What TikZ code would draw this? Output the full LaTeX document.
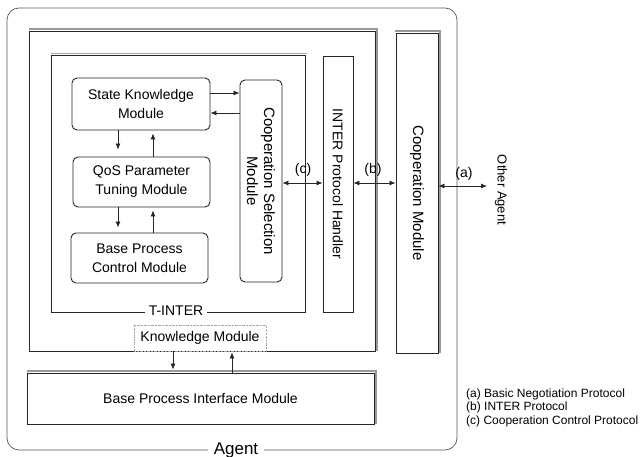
\documentclass[tikz,border=0pt]{standalone}
\usepackage{fontspec}
\setmainfont{Liberation Sans}
\usetikzlibrary{arrows.meta,calc}
\begin{document}
\begin{tikzpicture}[x=1pt,y=-1pt,
 box/.style={draw=black!85, line width=0.9pt, inner sep=0pt, align=center, font=\fontsize{14}{19}\selectfont},
 rbox/.style={box, rounded corners=5pt},
 tip/.tip={Latex[length=6pt,width=5pt]},
 arr/.style={-tip, line width=0.8pt, black!85},
 darr/.style={tip-tip, line width=0.8pt, black!85},
 shadeline/.style={draw=black!40, line width=1.8pt},
 lbl/.style={font=\fontsize{14}{16}\selectfont, inner sep=1pt},
 legend/.style={font=\fontsize{12}{13.5}\selectfont, anchor=west, inner sep=0pt}
]
\useasboundingbox (0,0) rectangle (640,457);

% Agent outer box
\node[draw=black!65, line width=0.7pt, rounded corners=12pt, minimum width=450, minimum height=442, inner sep=0pt] (agent) at (232,229) {};
\node[fill=white, font=\fontsize{17}{19}\selectfont, inner xsep=6pt, inner ysep=0pt] (agentlbl) at (236,450) {Agent};

% Knowledge module outer box
\node[box, minimum width=346, minimum height=320] (kb) at (202,191) {};
\draw[shadeline] ([yshift=1.5pt]kb.north west) -- ([xshift=1.5pt,yshift=1.5pt]kb.north east) -- ([xshift=1.5pt]kb.south east);

% T-INTER box
\node[box, minimum width=254, minimum height=257] (tinter) at (178,183.5) {};
\draw[draw=black!35, line width=1.2pt] ([yshift=1.2pt]tinter.north west) -- ([xshift=1.2pt,yshift=1.2pt]tinter.north east);
\node[lbl, fill=white, inner xsep=4pt] (tinterlbl) at (176,311) {T-INTER};

% Knowledge Module label
\node[lbl, draw=black!35, densely dotted, minimum width=132, minimum height=26] (kmlbl) at (200,338) {Knowledge Module};

% inner modules
\node[rbox, minimum width=138, minimum height=52] (sk) at (141,104) {State Knowledge\\Module};
\node[rbox, minimum width=137, minimum height=50] (qos) at (141.5,182) {QoS Parameter\\Tuning Module};
\node[rbox, minimum width=137, minimum height=50] (bpc) at (139.5,258) {Base Process\\Control Module};
% rotated nodes: .north is the right side, .south the left side
\node[rbox, minimum width=202, minimum height=42, rotate=-90, font=\fontsize{15}{17}\selectfont] (csm) at (261,181) {Cooperation Selection\\Module};

\node[box, minimum width=256, minimum height=30, rotate=-90] (iph) at (338,184) {INTER Protocol Handler};

\node[box, minimum width=320, minimum height=42, rotate=-90, font=\fontsize{15}{17}\selectfont] (cm) at (417,193) {Cooperation Module};
\draw[shadeline] ([xshift=-1pt,yshift=1.5pt]cm.south west) -- ([xshift=1.5pt,yshift=1.5pt]cm.north west) -- ([xshift=1.5pt]cm.north east);

\node[box, minimum width=347, minimum height=51] (bpim) at (200.5,398.5) {Base Process Interface Module};
\draw[shadeline] ([yshift=1.5pt]bpim.north west) -- ([xshift=1.5pt,yshift=1.5pt]bpim.north east) -- ([xshift=1.5pt]bpim.south east);

% vertical arrows among inner modules
\draw[arr, shorten >=7pt] ([xshift=-23pt]sk.south) -- ([xshift=-23pt]sk.south |- qos.north);
\draw[arr, shorten >=3pt] ([xshift=11.5pt]qos.north) -- ([xshift=11.5pt]qos.north |- sk.south);
\draw[arr, shorten >=5pt] ([xshift=-23.5pt]qos.south) -- ([xshift=-23.5pt]qos.south |- bpc.north);
\draw[arr, shorten >=3pt] ([xshift=13.5pt]bpc.north) -- ([xshift=13.5pt]bpc.north |- qos.south);

% SK <-> CSM
\coordinate (s1) at ([yshift=11pt]sk.east);
\coordinate (s2) at ([yshift=-9pt]sk.east);
\draw[arr] (s1) -- (s1 -| csm.south);
\draw[arr] (s2 -| csm.south) -- (s2);

% protocol arrows
\coordinate (row) at (0,183);
\draw[darr] (csm.north |- row) -- (iph.south |- row);
\draw[darr] (iph.north |- row) -- (cm.south |- row);
\node[lbl] (lc) at (303,170) {(c)};
\node[lbl] (lb) at (373,170) {(b)};

\node[rotate=-90, font=\fontsize{13}{15}\selectfont, inner sep=1pt] (other) at (501,190) {Other Agent};
\coordinate (oa) at (487,186);
\draw[darr] (cm.north |- oa) -- (oa);
\node[lbl] (la) at (464,174) {(a)};

% knowledge <-> base process interface
\draw[arr, shorten >=3pt] ([xshift=-29pt]kb.south) -- ([xshift=-29pt]kb.south |- bpim.north);
\draw[arr, shorten >=1pt] ([xshift=31.5pt]bpim.north) -- ([xshift=31.5pt]bpim.north |- kb.south);

% legend
\node[legend] (l1) at (466,394) {(a) Basic Negotiation Protocol};
\node[legend] (l2) at (466,407.5) {(b) INTER Protocol};
\node[legend] (l3) at (466,421) {(c) Cooperation Control Protocol};
\end{tikzpicture}
\end{document}
